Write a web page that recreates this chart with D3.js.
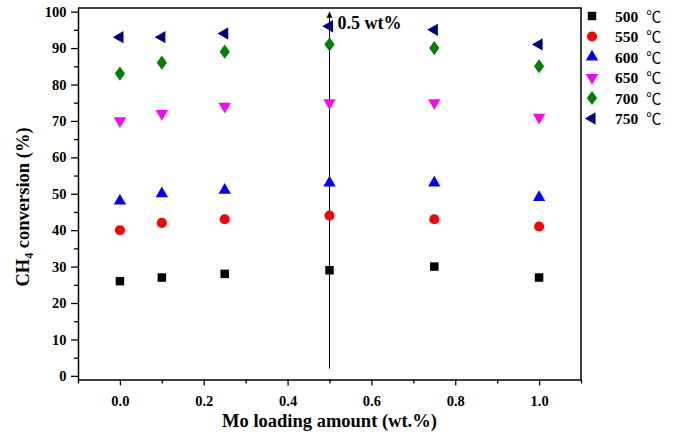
<!DOCTYPE html>
<html><head><meta charset="utf-8">
<script src="https://cdn.jsdelivr.net/npm/d3@7"></script>
<style>
body{margin:0;background:#fff;}
svg{display:block;}
text{font-family:"Liberation Serif","Times New Roman",serif;font-weight:bold;}
</style></head>
<body>
<svg id="c" width="674" height="441"></svg>
<script>
const loadings = [0, 0.1, 0.25, 0.5, 0.75, 1.0];
const temps = ["500", "550", "600", "650", "700", "750"];
const conv500 = [26, 27, 28, 29, 30, 27];
const conv550 = [40, 42, 43, 44, 43, 41];
const conv600 = [48, 50, 51, 53, 53, 49];
const conv650 = [70, 72, 74, 75, 75, 71];
const conv700 = [83, 86, 89, 91, 90, 85];
const conv750 = [93, 93, 94, 96, 95, 91];
const colors = ["#000000", "#ff0000", "#0000ff", "#ff00ff", "#008000", "#000080"];
const xMajor = [0, 0.2, 0.4, 0.6, 0.8, 1.0];
const xMinor = [-0.1, 0.1, 0.3, 0.5, 0.7, 0.9, 1.1];
const yMajor = [0, 10, 20, 30, 40, 50, 60, 70, 80, 90, 100];
const yMinor = [5, 15, 25, 35, 45, 55, 65, 75, 85, 95];
const markerLine = {x: 0.5, y0: 2, y1: 100, label: "0.5 wt%"};

const series = [conv500, conv550, conv600, conv650, conv700, conv750];

const svg = d3.select("#c");
const L = 78, R = 581, T = 8, B = 379.5;
const x = d3.scaleLinear().domain([-0.1, 1.1]).range([L, R]);
const y = d3.scaleLinear().domain([-1, 101]).range([B, T]);

// minor ticks
svg.append("g").attr("transform", `translate(0,${B})`)
  .call(d3.axisBottom(x).tickValues(xMinor).tickSize(4).tickFormat(""))
  .call(g => g.select(".domain").remove())
  .selectAll("line").attr("stroke", "#000").attr("stroke-width", 1.3);
svg.append("g").attr("transform", `translate(${L},0)`)
  .call(d3.axisLeft(y).tickValues(yMinor).tickSize(4).tickFormat(""))
  .call(g => g.select(".domain").remove())
  .selectAll("line").attr("stroke", "#000").attr("stroke-width", 1.3);

// major axes
const xa = svg.append("g").attr("transform", `translate(0,${B})`)
  .call(d3.axisBottom(x).tickValues(xMajor).tickSize(6).tickSizeOuter(0).tickFormat(d3.format(".1f")));
const ya = svg.append("g").attr("transform", `translate(${L},0)`)
  .call(d3.axisLeft(y).tickValues(yMajor).tickSize(7).tickSizeOuter(0).tickFormat(d3.format("d")));
[xa, ya].forEach(g => {
  g.selectAll("line").attr("stroke", "#000").attr("stroke-width", 1.3);
  g.select(".domain").attr("stroke", "#000").attr("stroke-width", 1.5);
  g.selectAll("text").attr("fill", "#000").style("font-size", "14.5px")
    .style("font-family", "'Liberation Serif',serif").style("font-weight", "bold");
});
xa.selectAll("text").attr("dy", "1.2em");
ya.selectAll("text").attr("dx", "-0.1em");

// frame top/right
svg.append("path").attr("d", `M${L},${T}H${R}V${B}`).attr("fill", "none")
  .attr("stroke", "#000").attr("stroke-width", 1.5);

// vertical marker with arrow
svg.append("defs").append("marker").attr("id", "arr").attr("viewBox", "0 0 10 10")
  .attr("refX", 10).attr("refY", 5).attr("markerWidth", 6).attr("markerHeight", 8)
  .attr("markerUnits", "userSpaceOnUse").attr("orient", "auto")
  .append("path").attr("d", "M0,0L10,5L0,10z").attr("fill", "#000");
svg.append("line").attr("x1", x(markerLine.x)).attr("x2", x(markerLine.x))
  .attr("y1", y(markerLine.y0)).attr("y2", y(markerLine.y1))
  .attr("stroke", "#000").attr("stroke-width", 1).attr("marker-end", "url(#arr)");
svg.append("text").attr("x", x(markerLine.x) + 8).attr("y", y(markerLine.y1) + 17)
  .style("font-size", "18px").text(markerLine.label);

// symbols
const sq = d3.symbol().type(d3.symbolSquare).size(72);
const ci = d3.symbol().type(d3.symbolCircle).size(80);
const tri = d3.symbol().type(d3.symbolTriangle).size(66);
const di = d3.symbol().type(d3.symbolDiamond).size(58);
const shapes = [
  {p: sq(), r: 0}, {p: ci(), r: 0}, {p: tri(), r: 0},
  {p: tri(), r: 180}, {p: di(), r: 0}, {p: tri(), r: -90}
];
function shapeTransform(i, cx, cy) {
  let t = `translate(${cx},${cy})`;
  if (i === 4) t += " scale(1.25,1)";
  if (shapes[i].r) t += ` rotate(${shapes[i].r})`;
  return t;
}

series.forEach((vals, i) => {
  svg.append("g").selectAll("path").data(vals).join("path")
    .attr("d", shapes[i].p)
    .attr("transform", (d, j) => shapeTransform(i, x(loadings[j]), y(d)))
    .attr("fill", colors[i]);
});

// legend
const lg = svg.append("g");
temps.forEach((t, i) => {
  const cy = 16 + i * 20.5;
  lg.append("path").attr("d", shapes[i].p).attr("transform", shapeTransform(i, 592, cy))
    .attr("fill", colors[i]);
  const tx = lg.append("text").attr("x", 615).attr("y", cy + 5.5).style("font-size", "15.5px");
  tx.append("tspan").text(t);
  tx.append("tspan").attr("dx", 8).style("font-family", "'Noto Sans CJK SC',sans-serif").style("font-weight", "normal")
    .style("font-size", "15px").text("℃");
});

// axis titles
svg.append("text").attr("x", (L + R) / 2).attr("y", 427).attr("text-anchor", "middle")
  .style("font-size", "18.5px").text("Mo loading amount (wt.%)");
const yt = svg.append("text").attr("transform", `translate(29,207) rotate(-90)`)
  .attr("text-anchor", "middle").style("font-size", "18.5px");
yt.append("tspan").text("CH");
yt.append("tspan").attr("dy", 4).style("font-size", "12px").text("4");
yt.append("tspan").attr("dy", -4).text(" conversion (%)");
</script>
</body></html>
